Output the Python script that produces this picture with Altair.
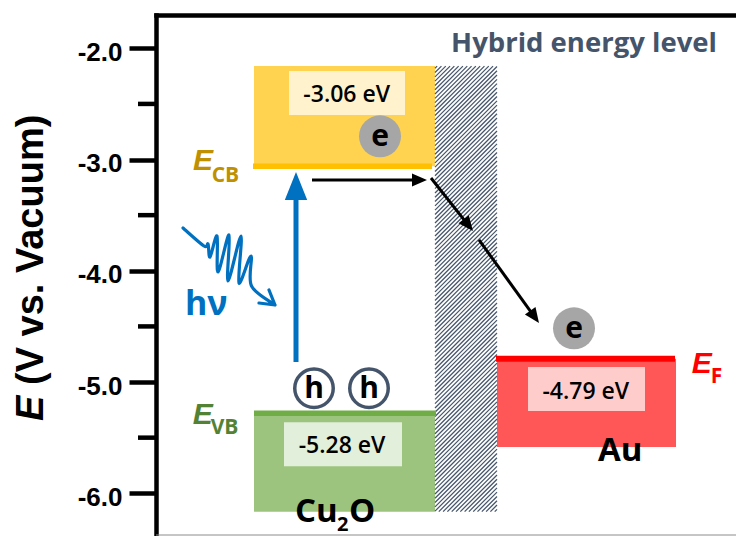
import altair as alt
import pandas as pd

# Band-edge energies (eV vs. vacuum)
cb_energy = -3.06      # Cu2O conduction band minimum
vb_energy = -5.28      # Cu2O valence band maximum
fermi_energy = -4.79   # Au Fermi level

major_ticks = [-2.0, -3.0, -4.0, -5.0, -6.0]
minor_ticks = [-2.5, -3.5, -4.5, -5.5]

# ---- drawing layout -------------------------------------------------------
W, H = 580, 520
Y_MIN, Y_MAX = -6.375, -1.7007
PX_PER_EV = H / (Y_MAX - Y_MIN)

cu2o_x = (98, 279)
hybrid_x = (279, 341)
au_x = (341, 520)
block_top = -2.16        # upper edge of the conduction-band block
block_bottom = -6.165    # lower edge of valence-band block / hybrid region
au_bottom = -5.584

x_scale = alt.Scale(domain=[0, W], nice=False, zero=False)
y_scale = alt.Scale(domain=[Y_MIN, Y_MAX], nice=False, zero=False)

# top frame line drawn as the (label-less) x axis
x_axis = alt.Axis(orient="top", labels=False, ticks=False, grid=False, title=None,
                  domainColor="black", domainWidth=4.5, domainCap="square")
# energy axis
y_axis = alt.Axis(values=major_ticks,
                  labelExpr="'-' + format(abs(datum.value), '.1f')",
                  labelFont="Liberation Sans", labelFontSize=26, labelFontWeight="bold",
                  labelColor="black", labelPadding=7, labelOffset=4,
                  tickSize=27, tickWidth=4.5, tickColor="black",
                  domainColor="black", domainWidth=4.5, domainCap="square",
                  grid=False, title=None)


def X(f="x"):
    return alt.X(f"{f}:Q", scale=x_scale, axis=x_axis)


def Y(f="y"):
    return alt.Y(f"{f}:Q", scale=y_scale, axis=y_axis)


# ---- filled blocks ---------------------------------------------------------
blocks = pd.DataFrame([
    {"x": cu2o_x[0], "x2": cu2o_x[1], "y": block_top, "y2": cb_energy, "fill": "#FFD350"},
    {"x": cu2o_x[0], "x2": cu2o_x[1], "y": vb_energy, "y2": block_bottom, "fill": "#9DC47E"},
    {"x": au_x[0], "x2": au_x[1], "y": fermi_energy, "y2": au_bottom, "fill": "#FF5757"},
])
blocks_layer = alt.Chart(blocks).mark_rect().encode(
    x=X(), x2="x2:Q", y=Y(), y2="y2:Q", color=alt.Color("fill:N", scale=None))


# ---- hatched hybrid region -------------------------------------------------
def hatch_segments(x0, x1, v_top, v_bot, pitch=4.3):
    y0 = (Y_MAX - v_top) * PX_PER_EV
    y1 = (Y_MAX - v_bot) * PX_PER_EV
    segs = []
    c = x0 + y0 + pitch / 2
    while c < x1 + y1:
        xa = max(x0, c - y1)
        xb = min(x1, c - y0)
        if xb > xa:
            segs.append({"x": xa, "y": Y_MAX - (c - xa) / PX_PER_EV,
                         "x2": xb, "y2": Y_MAX - (c - xb) / PX_PER_EV})
        c += pitch
    return pd.DataFrame(segs)


hatch = hatch_segments(hybrid_x[0], hybrid_x[1], block_top, block_bottom)
hatch_layer = alt.Chart(hatch).mark_rule(color="#44546A", strokeWidth=1.25).encode(
    x=X(), y=Y(), x2="x2:Q", y2="y2:Q")

# ---- value label boxes -----------------------------------------------------
label_boxes = pd.DataFrame([
    {"x": 133, "x2": 249, "y": -2.204, "y2": -2.600, "fill": "#FFF2CC"},
    {"x": 372, "x2": 489, "y": -4.865, "y2": -5.260, "fill": "#FFCCCC"},
    {"x": 128, "x2": 246, "y": -5.361, "y2": -5.757, "fill": "#E2EFDA"},
])
label_box_layer = alt.Chart(label_boxes).mark_rect().encode(
    x=X(), x2="x2:Q", y=Y(), y2="y2:Q", color=alt.Color("fill:N", scale=None))

# ---- band-edge lines -------------------------------------------------------
edges = pd.DataFrame([
    {"x": 97, "x2": 276, "y": cb_energy, "c": "#FFC000", "w": 5.5},
    {"x": 98, "x2": 280, "y": vb_energy, "c": "#70AD47", "w": 5.5},
    {"x": 340, "x2": 519, "y": fermi_energy, "c": "#FF0000", "w": 6},
])
edge_layer = alt.Chart(edges).mark_rule(strokeCap="butt").encode(
    x=X(), x2="x2:Q", y=Y(),
    color=alt.Color("c:N", scale=None),
    strokeWidth=alt.StrokeWidth("w:Q", scale=None))

# minor ticks on the energy axis
minor = pd.DataFrame({"y": minor_ticks})
minor_layer = alt.Chart(minor).mark_rule(color="black", strokeWidth=4.5).encode(
    y=Y(), x=alt.value(-18), x2=alt.value(0))

# bottom frame line
bottom_layer = alt.Chart(pd.DataFrame({"y": [Y_MIN]})).mark_rule(
    color="#8C8C8C", strokeWidth=1).encode(
    y=Y(), x=alt.value(0), x2=alt.value(W))

# ---- arrows ----------------------------------------------------------------
shafts = pd.DataFrame([
    {"x": 140, "y": -4.82, "x2": 140, "y2": -3.319, "c": "#0070C0", "w": 5},
    {"x": 156, "y": -3.184, "x2": 259, "y2": -3.184, "c": "black", "w": 3},
    {"x": 275, "y": -3.166, "x2": 309.5, "y2": -3.558, "c": "black", "w": 3},
    {"x": 323, "y": -3.723, "x2": 376, "y2": -4.382, "c": "black", "w": 3},
])
shaft_layer = alt.Chart(shafts).mark_rule(strokeCap="butt").encode(
    x=X(), y=Y(), x2="x2:Q", y2="y2:Q",
    color=alt.Color("c:N", scale=None),
    strokeWidth=alt.StrokeWidth("w:Q", scale=None))

HEAD_WIDE = "M0,-1L0.8,1L-0.8,1Z"
HEAD_SMALL = "M0,-1L0.87,1L-0.87,1Z"
blue_head = pd.DataFrame([{"x": 140, "y": -3.238}])
blue_head_layer = alt.Chart(blue_head).mark_point(
    shape=HEAD_WIDE, filled=True, color="#0070C0", opacity=1, size=784).encode(
    x=X(), y=Y())

black_heads = pd.DataFrame([
    {"x": 263.5, "y": -3.184, "a": 90},
    {"x": 312.3, "y": -3.589, "a": 141.6},
    {"x": 378.6, "y": -4.414, "a": 144.1},
])
black_head_layer = alt.Chart(black_heads).mark_point(
    shape=HEAD_SMALL, filled=True, color="black", opacity=1, size=225).encode(
    x=X(), y=Y(), angle=alt.Angle("a:Q", scale=None))


# incoming photon: wavy arrow glyph, smoothed through its turning points
def smooth_path(pts):
    parts = [f"M{pts[0][0]:.3f},{pts[0][1]:.3f}"]
    n = len(pts)
    for i in range(n - 1):
        p0 = pts[max(i - 1, 0)]
        p1, p2 = pts[i], pts[i + 1]
        p3 = pts[min(i + 2, n - 1)]
        c1 = (p1[0] + (p2[0] - p0[0]) / 6, p1[1] + (p2[1] - p0[1]) / 6)
        c2 = (p2[0] - (p3[0] - p1[0]) / 6, p2[1] - (p3[1] - p1[1]) / 6)
        parts.append(f"C{c1[0]:.3f},{c1[1]:.3f},{c2[0]:.3f},{c2[1]:.3f},{p2[0]:.3f},{p2[1]:.3f}")
    return "".join(parts)


photon_turns = [(-0.92, -0.78), (-0.50, -0.42), (-0.42, -0.46), (-0.38, -0.20),
                (-0.24, -0.62), (-0.22, 0.10), (0.00, -0.64), (-0.02, 0.28),
                (0.24, -0.62), (0.20, 0.32), (0.44, -0.22), (0.45, 0.38),
                (0.92, 0.76)]
PHOTON = smooth_path(photon_turns) + "M0.80,0.46L0.92,0.76L0.60,0.72"
photon_layer = alt.Chart(pd.DataFrame([{"x": 73, "y": -3.966}])).mark_point(
    shape=PHOTON, filled=False, stroke="#0070C0", strokeWidth=3.2, opacity=1,
    size=10000, strokeJoin="round", strokeCap="round").encode(x=X(), y=Y())

# ---- carriers --------------------------------------------------------------
electrons = pd.DataFrame([{"x": 224, "y": -2.791, "t": "e"},
                          {"x": 418, "y": -4.517, "t": "e"}])
holes = pd.DataFrame([{"x": 158, "y": -5.056, "t": "h"},
                      {"x": 213, "y": -5.056, "t": "h"}])
electron_layer = alt.Chart(electrons).mark_point(
    shape="circle", filled=True, color="#A6A6A6", opacity=1, size=1764).encode(
    x=X(), y=Y())
hole_layer = alt.Chart(holes).mark_point(
    shape="circle", filled=True, fill="white", stroke="#44546A", strokeWidth=3.5,
    opacity=1, size=1482).encode(x=X(), y=Y())
carrier_text = alt.Chart(pd.concat([electrons, holes])).mark_text(
    font="Open Sans", fontWeight="bold", fontSize=30, color="black",
    align="center", baseline="middle", dy=1).encode(x=X(), y=Y(), text="t:N")

# ---- texts -----------------------------------------------------------------
values = pd.DataFrame([
    {"x": 190.7, "y": -2.485, "t": f"{cb_energy:.2f} eV"},
    {"x": 429.8, "y": -5.155, "t": f"{fermi_energy:.2f} eV"},
    {"x": 186.0, "y": -5.640, "t": f"{vb_energy:.2f} eV"},
])
value_text = alt.Chart(values).mark_text(
    font="Open Sans", fontWeight=600, fontSize=23, color="black",
    align="center", baseline="alphabetic").encode(x=X(), y=Y(), text="t:N")

level_E = pd.DataFrame([
    {"x": 37.0, "y": -3.094, "c": "#BF9000"},
    {"x": 36.7, "y": -5.377, "c": "#548235"},
    {"x": 535.7, "y": -4.919, "c": "#FF0000"},
])
level_E_text = alt.Chart(level_E).mark_text(
    font="Liberation Sans", fontWeight="bold", fontStyle="italic", fontSize=30,
    align="left", baseline="alphabetic", text="E").encode(
    x=X(), y=Y(), color=alt.Color("c:N", scale=None))

level_sub = pd.DataFrame([
    {"x": 55.7, "y": -3.199, "c": "#BF9000", "t": "CB"},
    {"x": 54.7, "y": -5.467, "c": "#548235", "t": "VB"},
    {"x": 554.7, "y": -5.009, "c": "#FF0000", "t": "F"},
])
level_sub_text = alt.Chart(level_sub).mark_text(
    font="Open Sans", fontWeight="bold", fontSize=21,
    align="left", baseline="alphabetic").encode(
    x=X(), y=Y(), text="t:N", color=alt.Color("c:N", scale=None))

hybrid_text = alt.Chart(pd.DataFrame([{"x": 428, "y": -2.03, "t": "Hybrid energy level"}])).mark_text(
    font="Open Sans", fontWeight="bold", fontSize=27.5, color="#44546A",
    align="center", baseline="alphabetic").encode(x=X(), y=Y(), text="t:N")

materials = pd.DataFrame([
    {"x": 442, "y": -5.710, "t": "Au"},
    {"x": 139, "y": -6.260, "t": "Cu"},
    {"x": 193, "y": -6.260, "t": "O"},
])
material_text = alt.Chart(materials).mark_text(
    font="Open Sans", fontWeight="bold", fontSize=33, color="black",
    align="left", baseline="alphabetic").encode(x=X(), y=Y(), text="t:N")
subscript_text = alt.Chart(pd.DataFrame([{"x": 181, "y": -6.335, "t": "2"}])).mark_text(
    font="Open Sans", fontWeight="bold", fontSize=20, color="black",
    align="left", baseline="alphabetic").encode(x=X(), y=Y(), text="t:N")

photon_text = alt.Chart(pd.DataFrame([{"x": 29, "y": -4.398, "t": "hν"}])).mark_text(
    font="Open Sans", fontWeight="bold", fontSize=34, color="#0070C0",
    align="left", baseline="alphabetic").encode(x=X(), y=Y(), text="t:N")

# energy-axis title: italic E followed by the unit
title_E = alt.Chart(pd.DataFrame([{"t": "E"}])).mark_text(
    font="Liberation Sans", fontWeight="bold", fontStyle="italic", fontSize=38,
    color="black", angle=270, align="left", baseline="alphabetic").encode(
    x=alt.value(-112.7), y=alt.value(406), text="t:N")
title_rest = alt.Chart(pd.DataFrame([{"t": "(V vs. Vacuum)"}])).mark_text(
    font="Liberation Sans", fontWeight="bold", fontSize=38,
    color="black", angle=270, align="left", baseline="alphabetic").encode(
    x=alt.value(-112.7), y=alt.value(370), text="t:N")

chart = alt.layer(
    blocks_layer, hatch_layer, label_box_layer, edge_layer, minor_layer,
    bottom_layer, shaft_layer, blue_head_layer, black_head_layer, photon_layer,
    electron_layer, hole_layer, carrier_text, value_text, level_E_text,
    level_sub_text, hybrid_text, material_text, subscript_text, photon_text,
    title_E, title_rest,
).properties(
    width=W, height=H,
    padding={"left": 156, "top": 15, "right": 0, "bottom": 1},
    autosize=alt.AutoSizeParams(type="none"),
    background="white",
).configure_view(stroke=None)

chart.save("out.html", embed_options={"renderer": "svg", "actions": False})
